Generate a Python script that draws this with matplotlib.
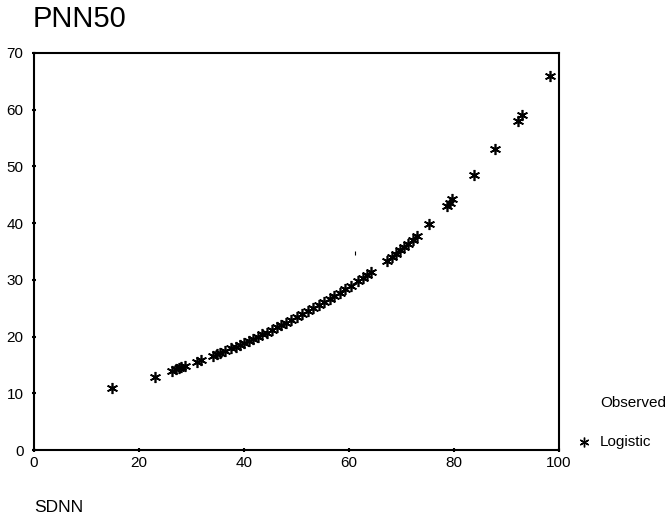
import matplotlib
matplotlib.use("Agg")
import matplotlib.pyplot as plt
from matplotlib.lines import Line2D

plt.rcParams['font.family'] = ['Liberation Sans', 'DejaVu Sans']

# Data (SDNN vs PNN50, logistic fitted values)
sdnn = [14.8, 23.0, 26.3, 27.0, 27.6, 28.0, 28.7, 31.0, 31.8, 34.0, 34.8, 35.5,
        36.3, 37.6, 38.4, 39.2, 40.0, 40.9, 41.7, 42.6, 43.5, 44.3, 45.3, 46.2,
        47.0, 48.0, 49.0, 50.0, 51.0, 52.2, 53.2, 54.2, 55.3, 56.3, 57.2, 58.2,
        59.3, 60.3, 61.8, 62.6, 63.4, 64.2, 67.3, 68.1, 68.9, 69.7, 70.5, 71.3,
        72.1, 73.0, 75.3, 78.6, 79.2, 79.7, 83.8, 87.9, 92.1, 92.9, 98.3]
pnn50 = [10.9, 12.9, 14.0, 14.3, 14.4, 14.6, 14.8, 15.5, 15.8, 16.6, 16.9, 17.1,
         17.4, 17.9, 18.2, 18.6, 18.9, 19.2, 19.6, 20.0, 20.4, 20.7, 21.2, 21.6,
         22.0, 22.4, 22.9, 23.4, 23.9, 24.5, 25.0, 25.5, 26.1, 26.6, 27.1, 27.7,
         28.3, 28.9, 29.8, 30.3, 30.8, 31.3, 33.4, 34.0, 34.6, 35.2, 35.8, 36.4,
         37.0, 37.7, 39.8, 43.0, 43.6, 44.2, 48.5, 53.0, 58.0, 59.0, 66.0]
stray_x = [61.1]
stray_y = [34.8]

x_ticks = [0, 20, 40, 60, 80, 100]
y_ticks = [0, 10, 20, 30, 40, 50, 60, 70]

fig = plt.figure(figsize=(6.72, 5.31), dpi=100)
ax = fig.add_axes([34/672, 1-450/531, (559-34)/672, (450-53)/531])

ax.plot(sdnn, pnn50, linestyle='none', marker=(6, 2, 0), markersize=8,
        markeredgewidth=1.2, color='black')
ax.plot(stray_x, stray_y, linestyle='none', marker='|', markersize=3,
        markeredgewidth=0.8, color='black')

ax.set_xlim(0, 100)
ax.set_ylim(0, 70)
ax.set_xticks(x_ticks)
ax.set_yticks(y_ticks)
ax.tick_params(direction='inout', length=3, width=1.5, labelsize=11,
               colors='black')
ax.tick_params(axis='y', pad=6)
ax.tick_params(axis='x', pad=3)
for s in ax.spines.values():
    s.set_linewidth(1.5)
    s.set_color('black')

fig.text(33/672, 1-19/531, 'PNN50', fontsize=21, ha='left', va='center')
fig.text(34/672, 1-508/531, 'SDNN', fontsize=12.5, ha='left', va='center')
fig.text(600/672, 1-403/531, 'Observed', fontsize=11, ha='left', va='center')
fig.text(600/672, 1-442/531, 'Logistic', fontsize=11, ha='left', va='center')
fig.add_artist(Line2D([584/672], [1-442/531], transform=fig.transFigure,
                      marker=(6, 2, 0), markersize=7, markeredgewidth=1.0,
                      color='black', linestyle='none'))

fig.savefig('out.png', dpi=100)
